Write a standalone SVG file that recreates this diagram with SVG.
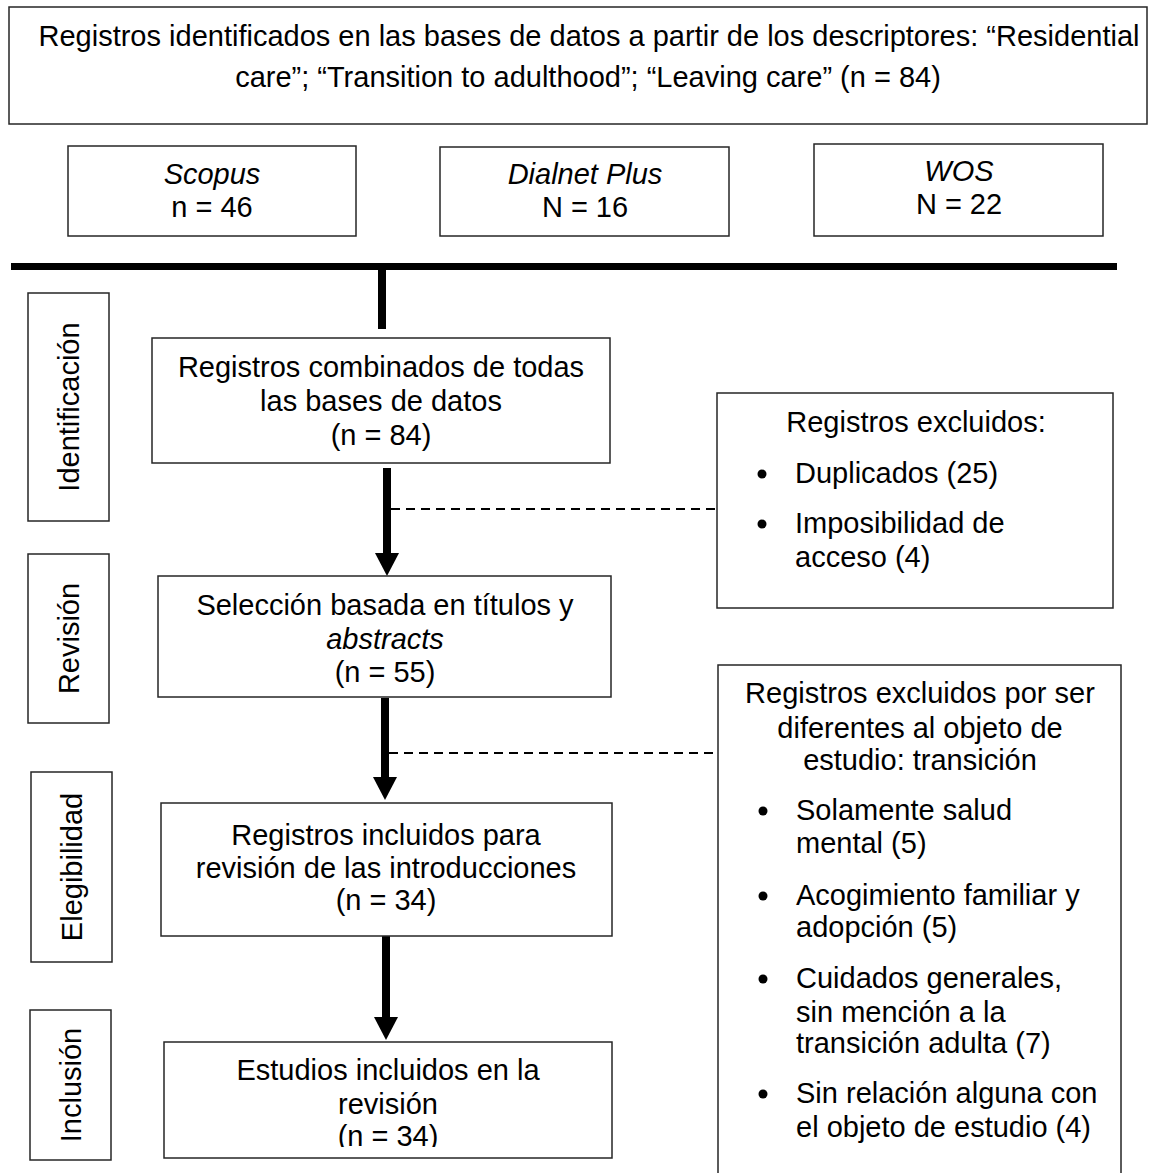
<svg xmlns="http://www.w3.org/2000/svg" width="1151" height="1173" viewBox="0 0 1151 1173">
<style>
  .box { fill: #ffffff; stroke: #262626; stroke-width: 1.5; }
  .t { font-family: "Liberation Sans", Arial, sans-serif; font-size: 29px; fill: #000; text-anchor: middle; }
  .tl { font-family: "Liberation Sans", Arial, sans-serif; font-size: 29px; fill: #000; }
  .i { font-style: italic; }
  .thick { stroke: #000; fill: none; }
  .dash { stroke: #000; stroke-width: 2; stroke-dasharray: 9 6; fill: none; }
  .head { fill: #000; }
</style>
<defs>
  <clipPath id="clipLast"><rect x="164" y="1042" width="448" height="105"/></clipPath>
</defs>
<rect width="1151" height="1173" fill="#ffffff"/>

<g id="header">
  <rect class="box" x="9" y="7" width="1138" height="117"/>
  <text class="t" x="589" y="46">Registros identificados en las bases de datos a partir de los descriptores: “Residential</text>
  <text class="t" x="588" y="87">care”; “Transition to adulthood”; “Leaving care” (n = 84)</text>
</g>

<g id="scopus">
  <rect class="box" x="68" y="146" width="288" height="90"/>
  <text class="t i" x="212" y="184">Scopus</text>
  <text class="t" x="212" y="217">n = 46</text>
</g>
<g id="dialnet">
  <rect class="box" x="440" y="147" width="289" height="89"/>
  <text class="t i" x="585" y="184">Dialnet Plus</text>
  <text class="t" x="585" y="217">N = 16</text>
</g>
<g id="wos">
  <rect class="box" x="814" y="144" width="289" height="92"/>
  <text class="t i" x="959" y="181">WOS</text>
  <text class="t" x="959" y="214">N = 22</text>
</g>

<g id="connectors">
  <line class="thick" x1="11" y1="266.5" x2="1117" y2="266.5" stroke-width="7"/>
  <line class="thick" x1="382" y1="266" x2="382" y2="329" stroke-width="8"/>
  <line class="thick" x1="387" y1="468" x2="387" y2="556" stroke-width="8"/>
  <polygon class="head" points="375,553 399,553 387,576"/>
  <line class="thick" x1="385" y1="698" x2="385" y2="780" stroke-width="8"/>
  <polygon class="head" points="373,777 397,777 385,800"/>
  <line class="thick" x1="386" y1="936" x2="386" y2="1020" stroke-width="8"/>
  <polygon class="head" points="374,1017 398,1017 386,1040"/>
  <line class="dash" x1="391" y1="509" x2="717" y2="509"/>
  <line class="dash" x1="389" y1="753" x2="718" y2="753"/>
</g>

<g id="label-identificacion">
  <rect class="box" x="28" y="293" width="81" height="228"/>
  <text class="t" transform="translate(79,407) rotate(-90)" x="0" y="0">Identificación</text>
</g>
<g id="label-revision">
  <rect class="box" x="28" y="554" width="81" height="169"/>
  <text class="t" transform="translate(79,638.5) rotate(-90)" x="0" y="0">Revisión</text>
</g>
<g id="label-elegibilidad">
  <rect class="box" x="31" y="772" width="81" height="190"/>
  <text class="t" transform="translate(82,867) rotate(-90)" x="0" y="0">Elegibilidad</text>
</g>
<g id="label-inclusion">
  <rect class="box" x="30" y="1010" width="81" height="150"/>
  <text class="t" transform="translate(81,1085) rotate(-90)" x="0" y="0">Inclusión</text>
</g>

<g id="combinados">
  <rect class="box" x="152" y="338" width="458" height="125"/>
  <text class="t" x="381" y="377">Registros combinados de todas</text>
  <text class="t" x="381" y="411">las bases de datos</text>
  <text class="t" x="381" y="445">(n = 84)</text>
</g>
<g id="seleccion">
  <rect class="box" x="158" y="576" width="453" height="121"/>
  <text class="t" x="385" y="615">Selección basada en títulos y</text>
  <text class="t i" x="385" y="649">abstracts</text>
  <text class="t" x="385" y="682">(n = 55)</text>
</g>
<g id="incluidos">
  <rect class="box" x="161" y="803" width="451" height="133"/>
  <text class="t" x="386" y="845">Registros incluidos para</text>
  <text class="t" x="386" y="878">revisión de las introducciones</text>
  <text class="t" x="386" y="910">(n = 34)</text>
</g>
<g id="estudios">
  <rect class="box" x="164" y="1042" width="448" height="116"/>
  <text class="t" x="388" y="1080">Estudios incluidos en la</text>
  <text class="t" x="388" y="1114">revisión</text>
  <text class="t" x="388" y="1146" clip-path="url(#clipLast)">(n = 34)</text>
</g>

<g id="excluidos1">
  <rect class="box" x="717" y="393" width="396" height="215"/>
  <text class="t" x="916" y="432">Registros excluidos:</text>
  <circle cx="762" cy="474" r="4.5"/>
  <text class="tl" x="795" y="483">Duplicados (25)</text>
  <circle cx="762" cy="524" r="4.5"/>
  <text class="tl" x="795" y="533">Imposibilidad de</text>
  <text class="tl" x="795" y="567">acceso (4)</text>
</g>

<g id="excluidos2">
  <rect class="box" x="718" y="665" width="403" height="520"/>
  <text class="t" x="920" y="703">Registros excluidos por ser</text>
  <text class="t" x="920" y="738">diferentes al objeto de</text>
  <text class="t" x="920" y="770">estudio: transición</text>
  <circle cx="763" cy="811" r="4.5"/>
  <text class="tl" x="796" y="820">Solamente salud</text>
  <text class="tl" x="796" y="853">mental (5)</text>
  <circle cx="763" cy="896" r="4.5"/>
  <text class="tl" x="796" y="905">Acogimiento familiar y</text>
  <text class="tl" x="796" y="937">adopción (5)</text>
  <circle cx="763" cy="979" r="4.5"/>
  <text class="tl" x="796" y="988">Cuidados generales,</text>
  <text class="tl" x="796" y="1022">sin mención a la</text>
  <text class="tl" x="796" y="1053">transición adulta (7)</text>
  <circle cx="763" cy="1094" r="4.5"/>
  <text class="tl" x="796" y="1103">Sin relación alguna con</text>
  <text class="tl" x="796" y="1137">el objeto de estudio (4)</text>
</g>
</svg>
